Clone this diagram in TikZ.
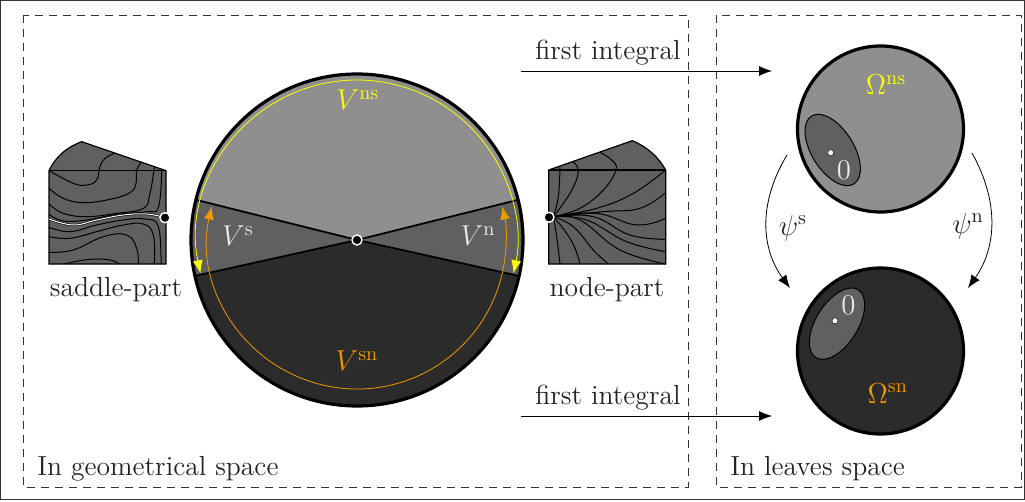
\documentclass[tikz,border=0pt]{standalone}
\usepackage{xcolor}
\usetikzlibrary{arrows.meta, positioning}
\definecolor{lightpart}{HTML}{8F8F8F}
\definecolor{midpart}{HTML}{606060}
\definecolor{darkpart}{HTML}{2B2B2B}
\definecolor{inktext}{HTML}{222222}
\definecolor{palelabel}{HTML}{E8E8E8}
\definecolor{orangeside}{HTML}{F09A00}
\definecolor{yellowside}{HTML}{FFFF00}

\begin{document}
\begin{tikzpicture}[x=0.5pt, y=-0.5pt, >={Latex[length=6.5pt,width=5pt]},
    every node/.style={font=\fontsize{13.8}{16}\selectfont, text=inktext},
    framebox/.style={draw=black!80, line width=0.4pt},
    spacebox/.style={draw=black!80, line width=0.4pt, dash pattern=on 4pt off 3pt},
    spacelabel/.style={anchor=base west, inner sep=0pt},
    disc/.style={circle, draw=black, line width=1.6pt, minimum size=83pt, inner sep=0pt},
    partbox/.style={draw=black, line width=0.6pt, fill=midpart},
    flow/.style={draw=black, line width=0.5pt},
    arrowline/.style={draw=black, line width=0.4pt},
    dotblack/.style={circle, draw=white, fill=black, line width=0.7pt, minimum size=5pt, inner sep=0pt},
    dotwhite/.style={circle, fill=white, draw=black, line width=0.2pt, minimum size=3pt, inner sep=0pt},
    curve/.style={smooth, tension=0.7}]
    \useasboundingbox (0,0) rectangle (1025,502);

    % Frames
    \draw [framebox] (0.5,0.5) rectangle (1024,499.5);
    \draw [spacebox] (23,15) rectangle (688,487);
    \draw [spacebox] (716,15) rectangle (1021,487);
    \node [spacelabel] (geolabel) at (37,476) {In geometrical space};
    \node [spacelabel] (leaflabel) at (730,476) {In leaves space};

    % Big disc
    \coordinate (o) at (357,240);
    \fill [lightpart] (o) -- ++(194:166) arc [start angle=194, end angle=346, radius=166] -- cycle;
    \fill [midpart] (o) -- ++(167.5:166) arc [start angle=167.5, end angle=194, radius=166] -- cycle;
    \fill [midpart] (o) -- ++(346:166) arc [start angle=346, end angle=372.5, radius=166] -- cycle;
    \fill [darkpart] (o) -- ++(12.5:166) arc [start angle=12.5, end angle=167.5, radius=166] -- cycle;
    \draw [black, line width=0.9pt] (o) ++(194:166) -- (o) -- ++(346:166);
    \draw [black, line width=0.9pt] (o) ++(167.5:166) -- (o) -- ++(12.5:166);
    \node [disc, minimum size=166pt] (bigdisc) at (o) {};
    \draw [yellowside, line width=0.4pt, <->] (o) ++(168:160) arc [start angle=168, end angle=372, radius=160];
    \draw [orangeside, line width=0.4pt, <->] (o) ++(193:149) arc [start angle=193, end angle=-13, radius=149];
    \node [dotblack] (centre) at (o) {};
    \node [text=yellowside] (vns) at (358,100) {$V^{\mathrm{ns}}$};
    \node [text=orangeside] (vsn) at (357,361) {$V^{\mathrm{sn}}$};
    \node [text=palelabel] (vs) at (238,236) {$V^{\mathrm{s}}$};
    \node [text=palelabel] (vn) at (478,236) {$V^{\mathrm{n}}$};

    % Saddle part
    \begin{scope}[shift={(30,120)}, x=0.16667pt, y=-0.16667pt]
        \draw [partbox] (57,152) .. controls (80,105) and (115,80) .. (155,65) -- (408,152) -- (408,432) -- (57,432) -- cycle;
        \draw [black, line width=0.6pt] (57,152) -- (408,152);
        \draw [flow] plot [curve] coordinates {(57,152) (130,190) (170,195) (200,180) (210,140) (225,115) (253,100)};
        \draw [flow] plot [curve] coordinates {(57,205) (100,235) (160,248) (240,238) (300,218) (318,190) (320,150) (335,126)};
        \draw [flow] plot [curve] coordinates {(57,252) (100,280) (170,290) (260,280) (340,265) (360,220) (373,142)};
        \draw [flow] plot [curve] coordinates {(57,283) (100,303) (170,300) (260,283) (350,275) (385,262) (395,152)};
        \draw [flow] plot [curve] coordinates {(57,322) (120,335) (200,315) (280,300) (345,297) (385,320) (393,432)};
        \draw [flow] plot [curve] coordinates {(57,350) (120,355) (200,335) (280,315) (340,312) (370,345) (373,432)};
        \draw [flow] plot [curve] coordinates {(57,397) (130,390) (220,350) (290,345) (320,385) (325,432)};
        \draw [flow] plot [curve] coordinates {(100,432) (180,418) (240,420) (268,432)};
        \draw [black, line width=1.1pt] plot [curve] coordinates {(57,297) (130,315) (200,300) (280,285) (350,282) (405,293)};
        \draw [white, line width=0.5pt] plot [curve] coordinates {(57,297) (130,315) (200,300) (280,285) (350,282) (405,293)};
    \end{scope}
    \node [dotblack] (saddledot) at (165,217.7) {};
    \node [anchor=base] (saddlelabel) at (116,297) {saddle-part};

    % Node part
    \begin{scope}[shift={(530,120)}, x=0.16667pt, y=-0.16667pt]
        \draw [partbox] (56,150) -- (307,62) .. controls (350,80) and (385,110) .. (407,150) -- (407,432) -- (56,432) -- cycle;
        \draw [black, line width=0.6pt] (56,150) -- (407,150);
        \draw [flow] plot [curve] coordinates {(70,290) (85,230) (90,142)};
        \draw [flow] plot [curve] coordinates {(70,290) (120,220) (145,155) (128,125)};
        \draw [flow] plot [curve] coordinates {(70,290) (150,265) (220,210) (258,150) (245,120) (210,97)};
        \draw [flow] plot [curve] coordinates {(70,290) (200,265) (310,220) (407,150)};
        \draw [flow] plot [curve] coordinates {(70,290) (220,275) (330,265) (407,218)};
        \draw [flow] plot [curve] coordinates {(70,290) (200,280) (320,315) (407,295)};
        \draw [flow] plot [curve] coordinates {(70,290) (190,290) (300,345) (407,358)};
        \draw [flow] plot [curve] coordinates {(70,290) (170,300) (290,365) (407,395)};
        \draw [flow] plot [curve] coordinates {(70,290) (150,300) (270,390) (407,432)};
        \draw [flow] plot [curve] coordinates {(70,290) (130,320) (190,390) (235,432)};
        \draw [flow] plot [curve] coordinates {(70,290) (110,340) (135,385) (150,432)};
        \draw [flow] plot [curve] coordinates {(70,290) (80,350) (90,432)};
    \end{scope}
    \node [dotblack] (nodedot) at (549,217.3) {};
    \node [anchor=base] (nodelabel) at (607,297) {node-part};

    % Leaves discs
    \node [disc, fill=lightpart] (omns) at (880.5,129) {};
    \node [disc, fill=darkpart] (omsn) at (880.5,351) {};
    \draw [flow, fill=midpart, rotate around={-58:(832.7,150)}] (832.7,150) ellipse [x radius=40, y radius=21];
    \draw [flow, fill=midpart, rotate around={58:(837,323.7)}] (837,323.7) ellipse [x radius=40, y radius=21];
    \node [dotwhite] (zerons) at (830.7,152.7) {};
    \node [dotwhite] (zerosn) at (835,320.7) {};
    \node [text=palelabel] (zeronslabel) at (844,170) {$0$};
    \node [text=palelabel] (zerosnlabel) at (848.3,305.7) {$0$};
    \node [text=yellowside] (omnslabel) at (886,85) {$\Omega^{\mathrm{ns}}$};
    \node [text=orangeside] (omsnlabel) at (887.7,393.3) {$\Omega^{\mathrm{sn}}$};

    % Maps between discs
    \coordinate (psisfrom) at (787,155);
    \coordinate (psisto) at (790,288);
    \coordinate (psinfrom) at (972,153);
    \coordinate (psinto) at (968,288);
    \draw [arrowline, ->] (psisfrom) .. controls (757,205) and (762,250) .. (psisto);
    \draw [arrowline, ->] (psinfrom) .. controls (1001,205) and (995,250) .. (psinto);
    \node (psis) at (793,228) {$\psi^{\mathrm{s}}$};
    \node (psin) at (968,226) {$\psi^{\mathrm{n}}$};

    % First integrals
    \coordinate (firstfromtop) at (521,71);
    \coordinate (firsttotop) at (772,71);
    \coordinate (firstfrombot) at (521,416);
    \coordinate (firsttobot) at (772,416);
    \draw [arrowline, ->] (firstfromtop) -- (firsttotop);
    \draw [arrowline, ->] (firstfrombot) -- (firsttobot);
    \node [anchor=base] (firsttop) at (608,60) {first integral};
    \node [anchor=base] (firstbot) at (608,405) {first integral};
\end{tikzpicture}
\end{document}
